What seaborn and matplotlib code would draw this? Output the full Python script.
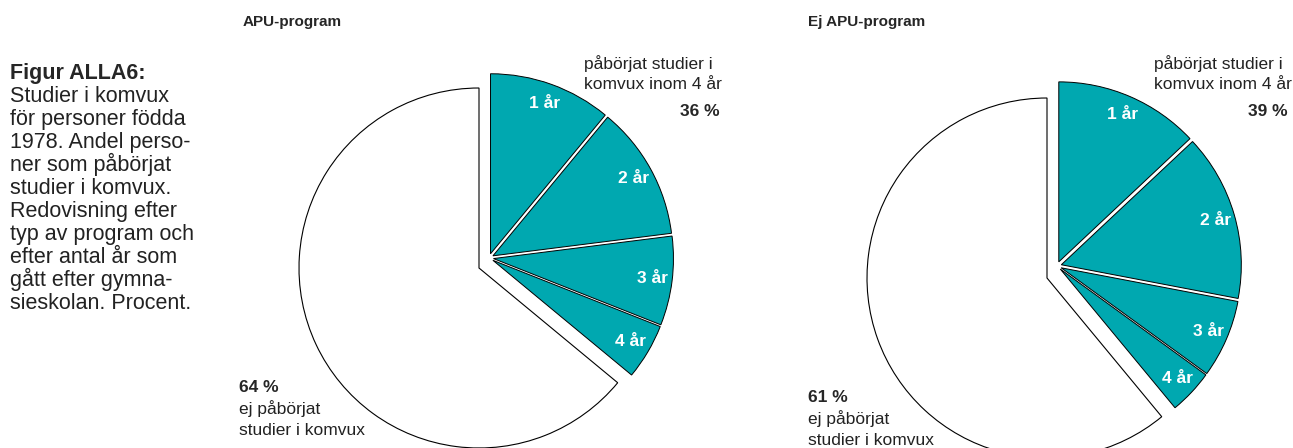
import matplotlib
matplotlib.use("Agg")
import matplotlib.pyplot as plt
import seaborn as sns

# data
programs = ["APU-program", "Ej APU-program"]
year_labels = ["1 år", "2 år", "3 år", "4 år"]
apu_years = [11, 12, 8, 5]
ej_apu_years = [13, 15, 7, 4]
apu_total = 36
ej_apu_total = 39
started_lines = ["påbörjat studier i", "komvux inom 4 år"]
not_started_lines = ["ej påbörjat", "studier i komvux"]
caption_title = "Figur ALLA6:"
caption_lines = ["Studier i komvux", "för personer födda", "1978. Andel perso-",
                 "ner som påbörjat", "studier i komvux.", "Redovisning efter",
                 "typ av program och", "efter antal år som", "gått efter gymna-",
                 "sieskolan. Procent."]

sns.set_theme(style="white")
plt.rcParams['font.family'] = ['Liberation Sans', 'DejaVu Sans']

TEAL = "#00a8b0"
W, H = 1293, 448

fig = plt.figure(figsize=(W / 100, H / 100), dpi=100)
ax = fig.add_axes([0, 0, 1, 1])


def draw_pie(years, total, white_c, teal_c, r):
    values = years + [100 - total]
    colors = [TEAL] * len(years) + ["white"]
    # white part (not started)
    wedges, _ = ax.pie(values, startangle=90, counterclock=False, radius=r,
                       center=(white_c[0], H - white_c[1]), colors=colors,
                       wedgeprops=dict(edgecolor="black", linewidth=0.8))
    for w in wedges[:-1]:
        w.set_visible(False)
    # teal part, pulled out as a group, small gaps between the years
    wedges, texts = ax.pie(values, labels=year_labels + [""], labeldistance=0.89,
                           startangle=90, counterclock=False, radius=r,
                           center=(teal_c[0], H - teal_c[1]), colors=colors,
                           explode=[4.5] * len(years) + [0],
                           wedgeprops=dict(edgecolor="black", linewidth=0.7),
                           textprops=dict(color="white", fontweight="bold",
                                          fontsize=12.5, ha="center", va="center"))
    wedges[-1].set_visible(False)


draw_pie(apu_years, apu_total, (479, 268), (489, 258), 180)
draw_pie(ej_apu_years, ej_apu_total, (1047, 278), (1057, 266), 180)

ax.set_xlim(0, W)
ax.set_ylim(0, H)
ax.set_aspect("auto")
ax.axis("off")

# headers
ax.text(243, H - 26, programs[0], fontsize=11, fontweight="bold", va="baseline")
ax.text(808, H - 26, programs[1], fontsize=11, fontweight="bold", va="baseline")

# caption
ax.text(10, H - 79, caption_title, fontsize=15.5, fontweight="bold", va="baseline")
for i, line in enumerate(caption_lines):
    ax.text(10, H - 79 - 23 * (i + 1), line, fontsize=15.5, va="baseline", color="#222222")

# annotations
for x0, x_pct, total in [(584, 720, apu_total), (1154, 1288, ej_apu_total)]:
    for i, line in enumerate(started_lines):
        ax.text(x0, H - 69 - 20 * i, line, fontsize=12.5, va="baseline", color="#222222")
    ax.text(x_pct, H - 116, f"{total} %", fontsize=12.5, fontweight="bold",
            ha="right", va="baseline")

for x0, y0, total in [(239, 392, apu_total), (808, 402, ej_apu_total)]:
    ax.text(x0, H - y0, f"{100 - total} %", fontsize=12.5, fontweight="bold", va="baseline")
    for i, line in enumerate(not_started_lines):
        ax.text(x0, H - y0 - 21.5 * (i + 1), line, fontsize=12.5, va="baseline",
                color="#222222")

fig.savefig("out.png", dpi=100)
